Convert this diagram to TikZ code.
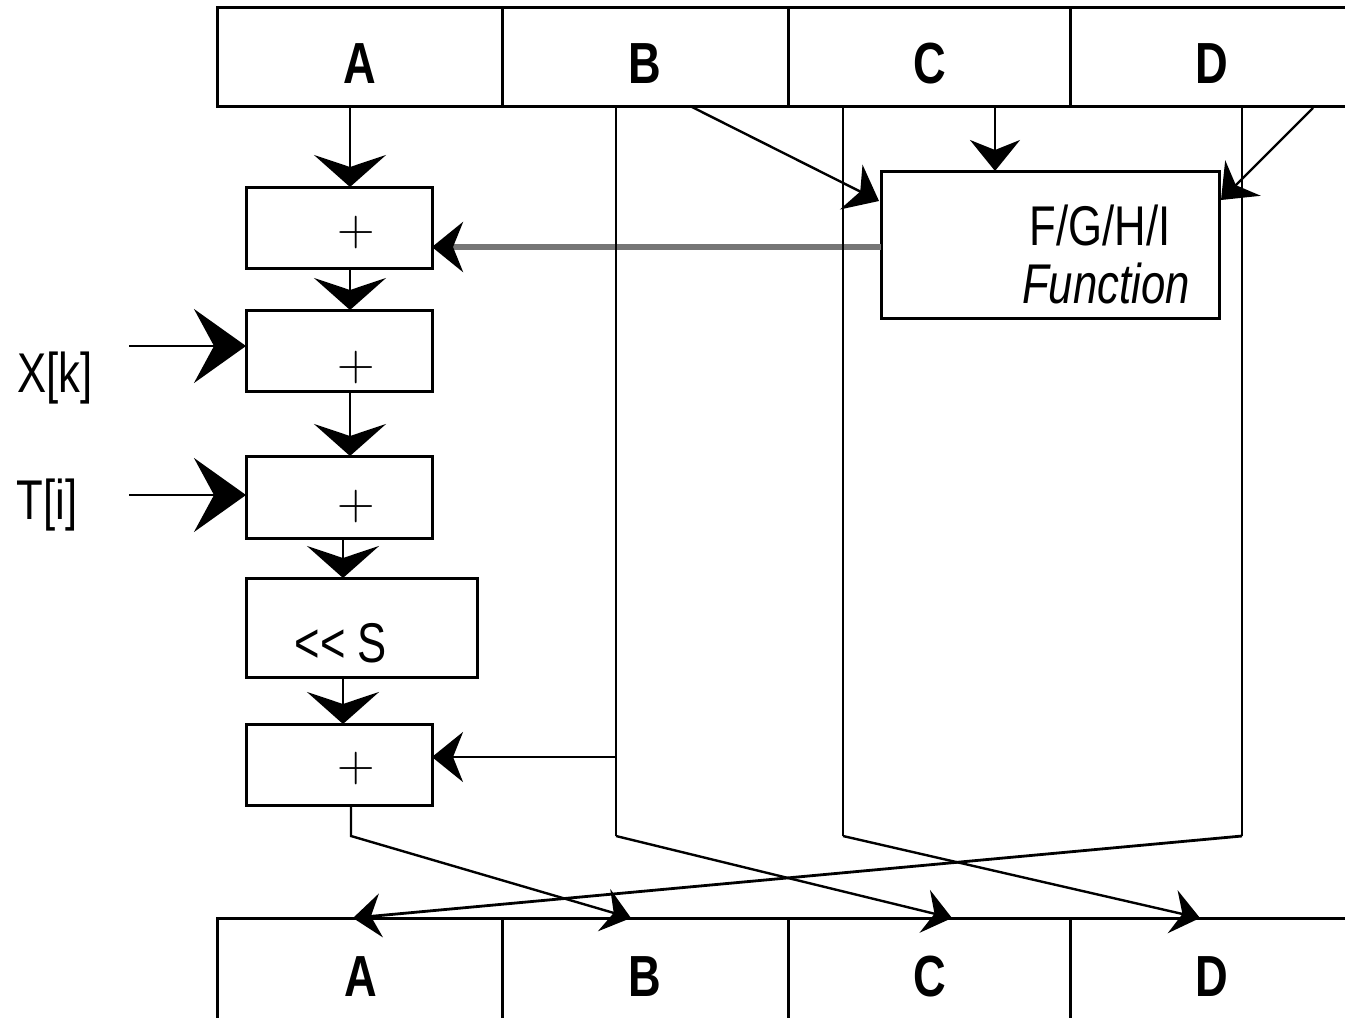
\documentclass[tikz,border=0pt]{standalone}
\usepackage{fontspec}
\usepackage{graphicx}
\newfontfamily\arialf{Liberation Sans}
\usetikzlibrary{arrows.meta}
\newcommand\narrowtxt[1]{\scalebox{0.78}[1]{#1}}
\definecolor{lgray}{RGB}{118,118,118}
\begin{document}
\begin{tikzpicture}[x=0.5pt,y=-0.5pt,
  reg/.style={draw,line width=1.5pt,inner sep=0pt,outer sep=0pt,minimum height=49.5pt},
  box/.style={draw,line width=1.5pt,inner sep=0pt,outer sep=0pt,minimum width=93pt,minimum height=40.5pt},
  ln/.style={line width=1.4pt},
  thinln/.style={line width=1.2pt},
  arrBig/.style={-{Stealth[length=16pt,width=36pt,inset=6pt]}},
  arrSide/.style={-{Stealth[length=26pt,width=37pt,inset=10pt]}},
  arrMid/.style={-{Stealth[length=15.5pt,width=25pt,inset=5pt]}},
  arrSmall/.style={-{Stealth[length=14pt,width=22pt,inset=5pt]}},
  letter/.style={font=\arialf\bfseries\fontsize{29}{30}\selectfont,inner sep=0pt},
  txt/.style={font=\arialf\fontsize{28}{30}\selectfont,inner sep=0pt},
  plus/.style={font=\fontsize{26}{28}\selectfont,inner sep=0pt}]
\useasboundingbox (0,0) rectangle (1345,1018);
\clip (0,0) rectangle (1345,1018);

% top register
\node[reg,minimum width=142.5pt] (tA) at (359.5,56.5) {};
\node[reg,minimum width=143pt] (tB) at (645,56.5) {};
\node[reg,minimum width=141pt] (tC) at (929,56.5) {};
\node[reg,minimum width=142pt] (tD) at (1212,56.5) {};
\node[letter] (lA) at (360,64) {\narrowtxt{A}};
\node[letter] (lB) at (645,64) {\narrowtxt{B}};
\node[letter] (lC) at (930,64) {\narrowtxt{C}};
\node[letter] (lD) at (1212,64) {\narrowtxt{D}};

% bottom register
\node[reg,minimum width=142.5pt,minimum height=55pt] (bA) at (359.5,973) {};
\node[reg,minimum width=143pt,minimum height=55pt] (bB) at (645,973) {};
\node[reg,minimum width=141pt,minimum height=55pt] (bC) at (929,973) {};
\node[reg,minimum width=142pt,minimum height=55pt] (bD) at (1212,973) {};
\node[letter] (mA) at (361,977) {\narrowtxt{A}};
\node[letter] (mB) at (645,977) {\narrowtxt{B}};
\node[letter] (mC) at (930,977) {\narrowtxt{C}};
\node[letter] (mD) at (1212,977) {\narrowtxt{D}};

% boxes
\node[box] (s1) at (339,227.5) {};
\node[box] (s2) at (339,350.5) {};
\node[box,minimum height=41pt] (s3) at (339,497) {};
\node[box,minimum width=115.5pt,minimum height=49.5pt] (s4) at (361.5,627.5) {};
\node[box] (s5) at (339,764.5) {};
\node[box,minimum width=169pt,minimum height=73.5pt] (fn) at (1050,244.5) {};

\node[plus] (p1) at (356,233) {+};
\node[plus] (p2) at (356,368) {+};
\node[plus] (p3) at (356,507) {+};
\node[plus] (p5) at (356,769) {+};
\node[txt] (sh) at (341,643) {\narrowtxt{{<}{<} S}};
\node[txt] (f1) at (1100,225) {\narrowtxt{F/G/H/I}};
\node[txt,font=\arialf\itshape\fontsize{28}{30}\selectfont] (f2) at (1106,283) {\narrowtxt{Function}};
\node[txt] (xk) at (55,378) {\narrowtxt{X[k]}};
\node[txt] (ti) at (47,505) {\narrowtxt{T[i]}};

% A chain
\coordinate (a0) at (350,106);
\coordinate (a1) at (343,0);
\draw[ln,arrBig] (a0) -- (a0 |- s1.north);
\draw[ln,arrBig] (s1.south -| a0) -- (s2.north -| a0);
\draw[ln,arrBig] (s2.south -| a0) -- (s3.north -| a0);
\draw[ln,arrBig] (s3.south -| a1) -- (s4.north -| a1);
\draw[ln,arrBig] (s4.south -| a1) -- (s5.north -| a1);

% inputs
\coordinate (xk0) at (129,346);
\coordinate (ti0) at (129,495);
\draw[ln,arrSide] (xk0) -- (xk0 -| s2.west);
\draw[ln,arrSide] (ti0) -- (ti0 -| s3.west);

% function output
\coordinate (g0) at (881,247);
\draw[line width=2.6pt,lgray,-{Stealth[length=15.5pt,width=25pt,inset=5pt,color=black]}] (g0) -- (g0 -| s1.east);

% inputs to function
\coordinate (bf0) at (690,106);
\coordinate (bf1) at (879,201);
\draw[thinln,arrMid] (bf0) -- (bf1);
\coordinate (cf0) at (995,106);
\draw[ln,arrMid] (cf0) -- (cf0 |- fn.north);
\coordinate (df0) at (1313,108);
\coordinate (df1) at (1221,200);
\draw[thinln,arrMid] (df0) -- (df1);

% B line
\coordinate (b0) at (616,106);
\coordinate (b1) at (616,836);
\coordinate (bj) at (616,757);
\draw[ln] (b0) -- (b1);
\draw[ln,arrMid] (bj) -- (bj -| s5.east);

% C and D lines
\coordinate (c0) at (843,106);
\coordinate (c1) at (843,836);
\coordinate (d0) at (1242,106);
\coordinate (d1) at (1242,836);
\draw[thinln] (c0) -- (c1);
\draw[thinln] (d0) -- (d1);

% permutation
\coordinate (a2) at (351,836);
\coordinate (tB) at (631,918);
\coordinate (tC) at (952,918);
\coordinate (tD) at (1200,918);
\coordinate (tA) at (353,918);
\draw[thinln,arrSmall] (s5.south -| a2) -- (a2) -- (tB);
\draw[thinln,arrSmall] (b1) -- (tC);
\draw[thinln,arrSmall] (c1) -- (tD);
\draw[ln,arrSmall] (d1) -- (tA);
\end{tikzpicture}
\end{document}
